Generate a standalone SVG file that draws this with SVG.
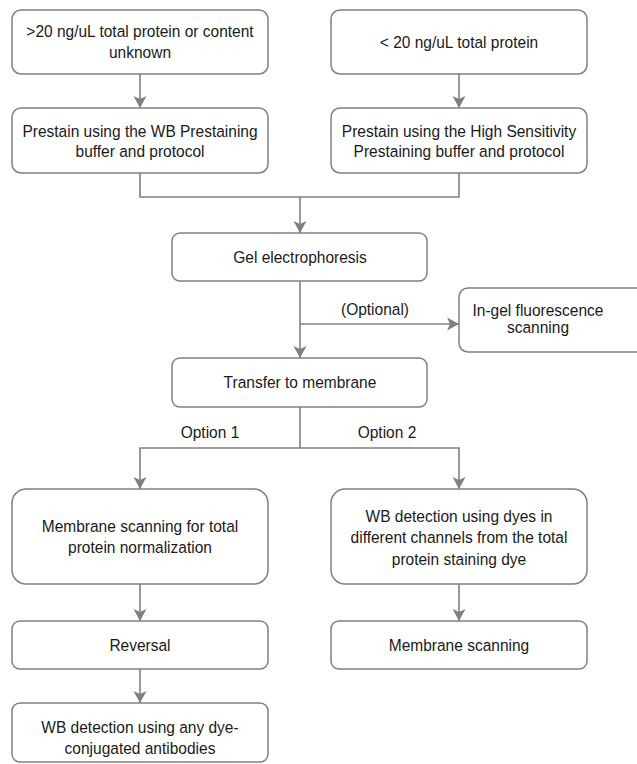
<svg xmlns="http://www.w3.org/2000/svg" width="637" height="764" viewBox="0 0 637 764">
<style>
.box{fill:#fff;stroke:#808080;stroke-width:1.5}
.t{font-family:"Liberation Sans",Arial,sans-serif;font-size:16.5px;fill:#1a1a1a;text-anchor:middle}
.c{fill:none;stroke:#808080;stroke-width:1.6}
</style>
<defs>
<marker id="ah" markerUnits="userSpaceOnUse" markerWidth="14" markerHeight="14" viewBox="0 0 14 14" refX="13" refY="7" orient="auto">
<path d="M1,0.5 L13,7 L1,13.5 L4,7 z" fill="#808080"/>
</marker>
</defs>
<rect width="637" height="764" fill="#fff"/>
<g id="connectors">
<path class="c" d="M140,74 V108" marker-end="url(#ah)"/>
<path class="c" d="M459,74 V108" marker-end="url(#ah)"/>
<path class="c" d="M140,173 V197 H459 V173"/>
<path class="c" d="M300,197 V233" marker-end="url(#ah)"/>
<path class="c" d="M300,281 V358" marker-end="url(#ah)"/>
<path class="c" d="M300,324 H459" marker-end="url(#ah)"/>
<text class="t" x="375" y="315" transform="matrix(0.94 0 0 1 22.5 0)">(Optional)</text>
<path class="c" d="M300,407 V448"/>
<path class="c" d="M300,448 H140 V489" marker-end="url(#ah)"/>
<path class="c" d="M300,448 H459 V489" marker-end="url(#ah)"/>
<text class="t" x="210" y="438" transform="matrix(0.94 0 0 1 12.6 0)">Option 1</text>
<text class="t" x="387" y="438" transform="matrix(0.94 0 0 1 23.22 0)">Option 2</text>
<path class="c" d="M140,584 V621" marker-end="url(#ah)"/>
<path class="c" d="M140,669 V703" marker-end="url(#ah)"/>
<path class="c" d="M459,584 V621" marker-end="url(#ah)"/>
</g>
<g id="n1"><rect class="box" x="12" y="10" width="256" height="64" rx="9"/>
<g transform="matrix(0.94 0 0 1 8.4 0)">
<text class="t" x="140" y="37.5">&gt;20 ng/uL total protein or content</text>
<text class="t" x="140" y="58">unknown</text></g></g>
<g id="n2"><rect class="box" x="331" y="10" width="256" height="64" rx="9"/>
<g transform="matrix(0.94 0 0 1 27.54 0)">
<text class="t" x="459" y="48">&lt; 20 ng/uL total protein</text></g></g>
<g id="n3"><rect class="box" x="12" y="108" width="256" height="65" rx="9"/>
<g transform="matrix(0.94 0 0 1 8.4 0)">
<text class="t" x="140" y="137">Prestain using the WB Prestaining</text>
<text class="t" x="140" y="157.5">buffer and protocol</text></g></g>
<g id="n4"><rect class="box" x="331" y="108" width="256" height="65" rx="9"/>
<g transform="matrix(0.94 0 0 1 27.54 0)">
<text class="t" x="459" y="137">Prestain using the High Sensitivity</text>
<text class="t" x="459" y="157.5">Prestaining buffer and protocol</text></g></g>
<g id="n5"><rect class="box" x="172" y="233" width="255" height="48" rx="8"/>
<g transform="matrix(0.94 0 0 1 18 0)">
<text class="t" x="300" y="263">Gel electrophoresis</text></g></g>
<g id="n6"><rect class="box" x="459" y="288" width="256" height="64" rx="9"/>
<g transform="matrix(0.94 0 0 1 32.28 0)">
<text class="t" x="538" y="316.5">In-gel fluorescence</text>
<text class="t" x="538" y="333.5">scanning</text></g></g>
<g id="n7"><rect class="box" x="172" y="358" width="255" height="49" rx="8"/>
<g transform="matrix(0.94 0 0 1 18 0)">
<text class="t" x="300" y="388.5">Transfer to membrane</text></g></g>
<g id="n8"><rect class="box" x="12" y="489" width="256" height="95" rx="14"/>
<g transform="matrix(0.94 0 0 1 8.4 0)">
<text class="t" x="140" y="532.5">Membrane scanning for total</text>
<text class="t" x="140" y="553.5">protein normalization</text></g></g>
<g id="n9"><rect class="box" x="331" y="489" width="256" height="95" rx="14"/>
<g transform="matrix(0.94 0 0 1 27.54 0)">
<text class="t" x="459" y="522">WB detection using dyes in</text>
<text class="t" x="459" y="543.5">different channels from the total</text>
<text class="t" x="459" y="565">protein staining dye</text></g></g>
<g id="n10"><rect class="box" x="12" y="621" width="256" height="48" rx="8"/>
<g transform="matrix(0.94 0 0 1 8.4 0)">
<text class="t" x="140" y="651">Reversal</text></g></g>
<g id="n11"><rect class="box" x="331" y="621" width="256" height="48" rx="8"/>
<g transform="matrix(0.94 0 0 1 27.54 0)">
<text class="t" x="459" y="651">Membrane scanning</text></g></g>
<g id="n12"><rect class="box" x="12" y="703" width="256" height="59" rx="8"/>
<g transform="matrix(0.94 0 0 1 8.4 0)">
<text class="t" x="140" y="733.5">WB detection using any dye-</text>
<text class="t" x="140" y="754">conjugated antibodies</text></g></g>
</svg>
